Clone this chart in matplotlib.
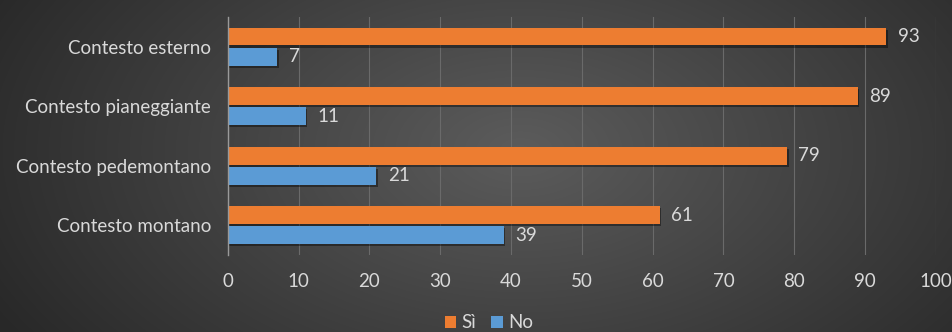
import numpy as np
import matplotlib.pyplot as plt
import matplotlib.patheffects as pe

# Dati
contesti = ["Contesto montano", "Contesto pedemontano", "Contesto pianeggiante", "Contesto esterno"]
si = [61, 79, 89, 93]
no = [39, 21, 11, 7]
x_ticks = [0, 10, 20, 30, 40, 50, 60, 70, 80, 90, 100]

ARANCIO = "#ED7D31"
BLU = "#5B9BD5"
TESTO = "#D9D9D9"
FS = 13.5

plt.rcParams["font.family"] = ["Lato", "DejaVu Sans"]

fig = plt.figure(figsize=(9.53, 3.32), dpi=100)

# Sfondo con gradiente radiale scuro
bg = fig.add_axes([0, 0, 1, 1], zorder=-10)
yy, xx = np.mgrid[0:332, 0:953]
r = np.sqrt(((xx - 520) / 560.0) ** 2 + ((yy - 150) / 330.0) ** 2)
val = np.clip(0.36 - 0.19 * r, 0.16, 0.36)
bg.imshow(np.dstack([val, val, val]), aspect="auto", extent=[0, 1, 0, 1])
bg.axis("off")

ax = fig.add_axes([0.239, 0.232, 0.743, 0.717])
ax.patch.set_alpha(0)

y = np.arange(len(contesti))
h = 0.3
ombra = [pe.SimplePatchShadow(offset=(1.0, -1.5), shadow_rgbFace="black", alpha=0.4), pe.Normal()]

b1 = ax.barh(y + h / 2 + 0.02, si, height=h, color=ARANCIO, label="Sì", zorder=3)
b2 = ax.barh(y - h / 2 - 0.02, no, height=h, color=BLU, label="No", zorder=3)
for b in list(b1) + list(b2):
    b.set_path_effects(ombra)

for yi, v in zip(y, si):
    ax.text(v + 1.6, yi + h / 2 + 0.02, str(v), va="center", ha="left", color=TESTO, fontsize=FS)
for yi, v in zip(y, no):
    ax.text(v + 1.6, yi - h / 2 - 0.02, str(v), va="center", ha="left", color=TESTO, fontsize=FS)

ax.set_xlim(0, 100)
ax.set_ylim(-0.5, 3.5)
ax.set_xticks(x_ticks)
ax.set_yticks(y)
ax.set_yticklabels(contesti)
ax.tick_params(axis="both", length=0, colors=TESTO, labelsize=FS)
ax.tick_params(axis="x", pad=13)
ax.tick_params(axis="y", pad=12)

ax.grid(axis="x", color="#6a6a6a", linewidth=0.8, zorder=0)
for s in ["top", "right", "bottom"]:
    ax.spines[s].set_visible(False)
ax.spines["left"].set_color("#9a9a9a")
ax.spines["left"].set_linewidth(1.0)
ax.spines["left"].set_zorder(4)

leg = fig.legend(handles=[b1, b2], labels=["Sì", "No"], loc="center", bbox_to_anchor=(0.513, 0.028),
                 ncol=2, frameon=False, fontsize=FS, labelcolor=TESTO,
                 handlelength=0.6, handleheight=0.6, handletextpad=0.3, columnspacing=0.8)
for hnd in leg.legend_handles:
    hnd.set_path_effects([])

fig.savefig("out.png", dpi=100)
